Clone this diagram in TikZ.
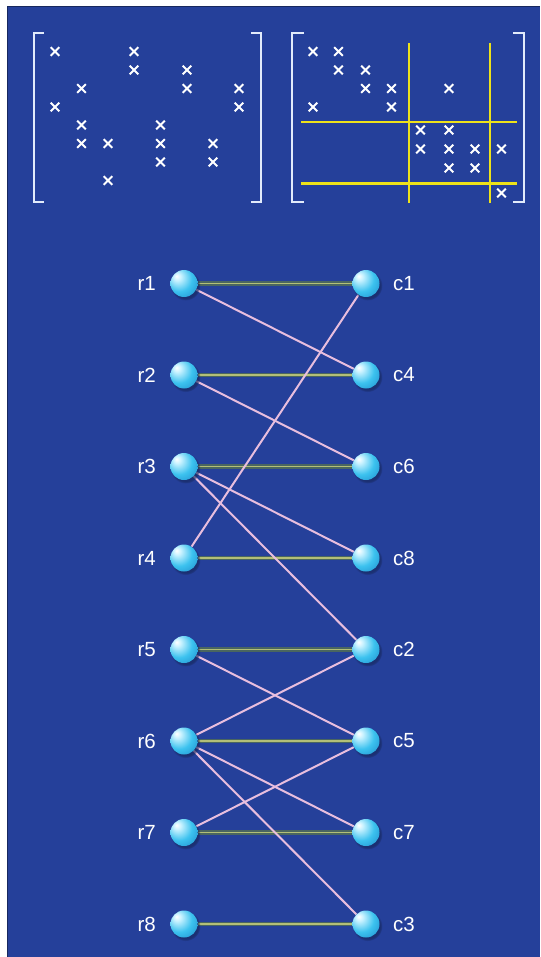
\documentclass[tikz,border=0pt]{standalone}
\usepackage{fontspec}
\setmainfont{Liberation Sans}
\usetikzlibrary{shadows}

\definecolor{bgblue}{HTML}{25409A}
\definecolor{bgdark}{HTML}{17285E}
\definecolor{brackcol}{HTML}{E2EBFB}
\definecolor{gridyellow}{HTML}{EDE21A}
\definecolor{matchdark}{HTML}{4A6660}
\definecolor{matchlight}{HTML}{B3BF78}
\definecolor{pinkline}{HTML}{E8BEDE}
\definecolor{spherehi}{HTML}{C8F2FF}
\definecolor{spheremid}{HTML}{3CC2EF}
\definecolor{spherelo}{HTML}{1A86C8}

% light cyan glassy sphere, highlight up-left
\pgfdeclareradialshading{sphereshade}{\pgfpoint{-14bp}{14bp}}{%
  color(0bp)=(white); color(7bp)=(spherehi); color(24bp)=(spheremid);
  color(46bp)=(spherelo); color(70bp)=(spherelo)}

\pgfdeclarelayer{bg}
\pgfdeclarelayer{edges}
\pgfsetlayers{bg,edges,main}

\tikzset{
  ball/.style={circle, minimum size=27pt, inner sep=0pt, shading=sphereshade,
    circular drop shadow={shadow xshift=1.5pt, shadow yshift=-2pt,
      opacity=0.65, fill=bgdark}},
  lbl/.style={text=white, inner sep=0pt, font=\fontsize{20.5}{24}\selectfont},
  matchedge/.style={draw=matchdark, line width=1.9pt, double=matchlight,
    double distance=1.1pt},
  otheredge/.style={draw=pinkline, line width=2pt},
  brack/.style={draw=brackcol, line width=2.8pt},
  hsep/.style={draw=gridyellow, line width=2.3pt},
  vsep/.style={draw=gridyellow, line width=1.6pt},
  xm/.pic={\draw[white, line width=2.1pt] (-4.3,-4.3) -- (4.3,4.3) (-4.3,4.3) -- (4.3,-4.3);}
}

\begin{document}
\begin{tikzpicture}[x=1pt, y=-1pt]
\useasboundingbox (0,0) rectangle (540,957);

\begin{pgfonlayer}{bg}
  \fill[white] (0,0) rectangle (540,957);
  \fill[bgblue] (7,6) rectangle (540,957);
  \draw[bgdark, line width=1.5pt] (7.5,957) -- (7.5,6.5) -- (540,6.5);
\end{pgfonlayer}

% ---- sparsity pattern of the original matrix ----
\def\lcol{{55,81.5,108,134,160.5,187,213,239}}
\def\lrow{{51.5,70,88.5,107,125,143.5,162,180.5}}
\draw[brack] (44,33) -- (34,33) -- (34,202) -- (44,202);
\draw[brack] (251,33) -- (261,33) -- (261,202) -- (251,202);
\foreach \r/\c in {1/1,1/4,2/4,2/6,3/2,3/6,3/8,4/1,4/8,5/2,5/5,
                   6/2,6/3,6/5,6/7,7/5,7/7,8/3}
  \pic at ({\lcol[\c-1]},{\lrow[\r-1]}) {xm};

% ---- permuted, block-partitioned matrix ----
\def\rcol{{313,338.5,365.5,391.5,420.5,449,475,501.5}}
\def\rrow{{51.5,70,88.5,107,130,149,168,193}}
\draw[brack] (304,33) -- (292,33) -- (292,202) -- (304,202);
\draw[brack] (513,33) -- (524,33) -- (524,202) -- (513,202);
\draw[hsep] (301,122) -- (517,122);
\draw[hsep] (301,183.5) -- (517,183.5);
\draw[vsep] (409,43) -- (409,203);
\draw[vsep] (490,43) -- (490,203);
\foreach \r/\c in {1/1,1/2,2/2,2/3,3/3,3/4,3/6,4/1,4/4,5/5,5/6,
                   6/5,6/6,6/7,6/8,7/6,7/7,8/8}
  \pic at ({\rcol[\c-1]},{\rrow[\r-1]}) {xm};

% ---- bipartite graph: rows on the left, columns on the right ----
\foreach \n/\y in {1/283.5,2/375,3/466.5,4/558,5/649.5,6/741,7/832.5,8/924} {
  \node[ball] (r\n) at (184,\y) {};
  \node[lbl, anchor=east] (r\n l) at (156,\y) {r\n};
}
\foreach \n/\y in {1/283.5,4/375,6/466.5,8/558,2/649.5,5/741,7/832.5,3/924} {
  \node[ball] (c\n) at (366,\y) {};
  \node[lbl, anchor=west] (c\n l) at (393,\y) {c\n};
}

\begin{pgfonlayer}{edges}
  \foreach \a/\b in {1/1,2/4,3/6,4/8,5/2,6/5,7/7,8/3}
    \draw[matchedge] (r\a) -- (c\b);
  \foreach \a/\b in {1/4,2/6,3/8,3/2,4/1,5/5,6/2,6/7,6/3,7/5}
    \draw[otheredge] (r\a) -- (c\b);
\end{pgfonlayer}
\end{tikzpicture}
\end{document}
